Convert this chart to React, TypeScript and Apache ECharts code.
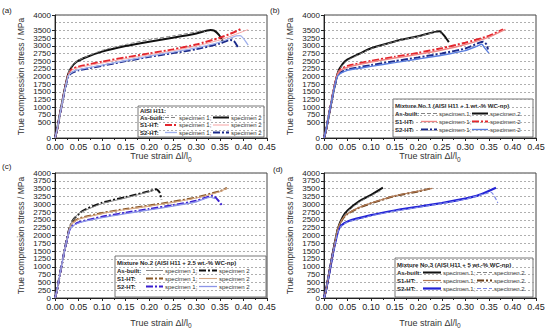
import React, { useEffect, useRef } from "react";
import * as echarts from "echarts";

// ---------- data: [true strain, true stress MPa] ----------
// (a) AISI H11
const a_ab1 = [[0,0],[0.004,260],[0.01,780],[0.02,1580],[0.028,2100],[0.035,2330],[0.05,2530],[0.1,2850],[0.15,3040],[0.2,3200],[0.25,3320],[0.3,3450],[0.315,3490],[0.322,3380]];
const a_ab2 = [[0,0],[0.004,250],[0.01,750],[0.02,1550],[0.028,2080],[0.035,2300],[0.046,2480],[0.07,2650],[0.1,2810],[0.15,2990],[0.2,3130],[0.25,3260],[0.3,3400],[0.33,3510],[0.338,3490],[0.348,3350],[0.357,3130]];
const a_s1a = [[0,0],[0.004,240],[0.01,730],[0.02,1530],[0.028,2050],[0.035,2230],[0.05,2320],[0.1,2480],[0.15,2620],[0.2,2750],[0.25,2880],[0.3,3040],[0.35,3260],[0.38,3440],[0.395,3550]];
const a_s1b = [[0,0],[0.004,240],[0.01,730],[0.02,1520],[0.028,2040],[0.035,2200],[0.05,2290],[0.1,2440],[0.15,2580],[0.2,2710],[0.25,2840],[0.3,2990],[0.35,3190],[0.38,3350],[0.41,3530]];
const a_s2a = [[0,0],[0.004,240],[0.01,720],[0.02,1500],[0.028,2000],[0.035,2130],[0.05,2220],[0.1,2370],[0.15,2520],[0.2,2660],[0.25,2790],[0.3,2930],[0.35,3120],[0.385,3320],[0.393,3330],[0.41,3020]];
const a_s2b = [[0,0],[0.004,240],[0.01,720],[0.02,1500],[0.028,1990],[0.035,2110],[0.05,2200],[0.1,2350],[0.15,2500],[0.2,2640],[0.25,2760],[0.3,2890],[0.35,3070],[0.372,3190],[0.38,3150],[0.388,2960]];

// (b) Mixture No.1
const b_ab1 = [[0,0],[0.004,230],[0.01,700],[0.02,1500],[0.03,2150],[0.04,2380],[0.05,2520],[0.075,2720],[0.1,2900],[0.15,3130],[0.2,3300],[0.24,3440],[0.25,3400]];
const b_ab2 = [[0,0],[0.004,230],[0.01,700],[0.02,1500],[0.03,2150],[0.04,2420],[0.05,2560],[0.075,2740],[0.1,2920],[0.15,3140],[0.2,3310],[0.245,3470],[0.255,3330],[0.265,3120]];
const b_s1a = [[0,0],[0.004,240],[0.01,720],[0.02,1520],[0.028,2030],[0.035,2200],[0.05,2300],[0.1,2470],[0.15,2600],[0.2,2720],[0.25,2860],[0.3,3040],[0.35,3280],[0.385,3530]];
const b_s1b = [[0,0],[0.004,240],[0.01,720],[0.02,1530],[0.028,2050],[0.035,2230],[0.05,2340],[0.1,2510],[0.15,2640],[0.2,2770],[0.25,2920],[0.3,3100],[0.35,3320],[0.38,3530]];
const b_s2a = [[0,0],[0.004,240],[0.01,720],[0.02,1500],[0.028,2000],[0.035,2130],[0.05,2230],[0.1,2370],[0.15,2500],[0.2,2620],[0.25,2750],[0.3,2910],[0.33,3100],[0.338,3130],[0.345,3040],[0.348,2880]];
const b_s2b = [[0,0],[0.004,240],[0.01,710],[0.02,1490],[0.028,1980],[0.035,2100],[0.05,2200],[0.1,2330],[0.15,2450],[0.2,2570],[0.25,2690],[0.3,2840],[0.325,2990],[0.335,3050],[0.34,2950],[0.35,2760]];

// (c) Mixture No.2
const c_ab1 = [[0,0],[0.004,230],[0.01,720],[0.02,1500],[0.03,2200],[0.035,2420],[0.05,2700],[0.1,3020],[0.15,3200],[0.2,3400],[0.21,3450]];
const c_ab2 = [[0,0],[0.004,230],[0.01,720],[0.02,1500],[0.03,2200],[0.04,2530],[0.06,2800],[0.1,3050],[0.15,3230],[0.2,3420],[0.215,3480],[0.222,3380],[0.226,3150]];
const c_s1a = [[0,0],[0.004,230],[0.01,720],[0.02,1500],[0.03,2180],[0.035,2380],[0.05,2540],[0.1,2720],[0.15,2850],[0.2,2960],[0.25,3080],[0.3,3220],[0.35,3420],[0.365,3520]];
const c_s1b = [[0,0],[0.004,230],[0.01,720],[0.02,1500],[0.03,2170],[0.035,2360],[0.05,2520],[0.1,2700],[0.15,2830],[0.2,2940],[0.25,3060],[0.3,3200],[0.35,3400],[0.365,3510]];
const c_s2a = [[0,0],[0.004,230],[0.01,720],[0.02,1500],[0.03,2150],[0.035,2290],[0.05,2420],[0.1,2600],[0.15,2730],[0.2,2850],[0.25,2970],[0.3,3110],[0.335,3280],[0.345,3150],[0.355,2950]];
const c_s2b = [[0,0],[0.004,230],[0.01,720],[0.02,1500],[0.03,2140],[0.035,2270],[0.05,2400],[0.1,2570],[0.15,2700],[0.2,2820],[0.25,2940],[0.3,3080],[0.33,3230],[0.34,3180]];

// (d) Mixture No.3
const d_ab1 = [[0,0],[0.004,240],[0.01,720],[0.02,1550],[0.03,2250],[0.04,2600],[0.05,2800],[0.075,3100],[0.1,3300],[0.125,3530]];
const d_ab2 = [[0,0],[0.004,240],[0.01,720],[0.02,1540],[0.03,2230],[0.04,2570],[0.05,2770],[0.075,3070],[0.1,3270],[0.12,3430]];
const d_s1a = [[0,0],[0.004,240],[0.01,720],[0.02,1540],[0.03,2250],[0.04,2550],[0.05,2700],[0.075,2900],[0.1,3040],[0.15,3270],[0.2,3420],[0.23,3510]];
const d_s1b = [[0,0],[0.004,240],[0.01,720],[0.02,1540],[0.03,2240],[0.04,2540],[0.05,2690],[0.075,2890],[0.1,3030],[0.15,3260],[0.2,3410],[0.225,3500]];
const d_s2a = [[0,0],[0.004,230],[0.01,700],[0.02,1500],[0.03,2150],[0.035,2300],[0.05,2450],[0.1,2650],[0.15,2800],[0.2,2920],[0.25,3040],[0.3,3180],[0.33,3300],[0.365,3530]];
const d_s2b = [[0,0],[0.004,230],[0.01,700],[0.02,1500],[0.03,2140],[0.035,2280],[0.05,2430],[0.1,2630],[0.15,2780],[0.2,2900],[0.25,3020],[0.3,3160],[0.34,3330],[0.355,3380],[0.369,3040]];

const xTicks = [0, 0.45, 0.05];
const yTicks = [0, 4000, 250];
const panelLetters = ["(a)", "(b)", "(c)", "(d)"];
const legendTitles = [
  "AISI H11:",
  "Mixture No.1 (AISI H11 + 1 wt.-% WC-np)",
  "Mixture No.2 (AISI H11 + 2.5 wt.-% WC-np)",
  "Mixture No.3 (AISI H11 + 5 wt.-% WC-np)",
];
const rowLabels = ["As-built:", "S1-HT:", "S2-HT:"];
const specLabels = ["specimen 1;", "specimen 2"];

// ---------- styles ----------
const SOLID = "solid";
const DASH = [4, 2];
const DASHDOT = [7, 2, 2, 2];
type St = { c: string; w: number; t: any };
const styles: St[][] = [
  [
    { c: "#858585", w: 1, t: DASH }, { c: "#111111", w: 2, t: SOLID },
    { c: "#e3262d", w: 2, t: DASHDOT }, { c: "#f6a3a3", w: 1, t: SOLID },
    { c: "#9fb0ec", w: 1.3, t: SOLID }, { c: "#1b2a8a", w: 2, t: DASHDOT },
  ],
  [
    { c: "#858585", w: 1, t: DASH }, { c: "#111111", w: 2, t: SOLID },
    { c: "#f08585", w: 1.4, t: SOLID }, { c: "#e3262d", w: 2, t: DASHDOT },
    { c: "#1b2a8a", w: 2, t: DASHDOT }, { c: "#5b7fe0", w: 1.4, t: SOLID },
  ],
  [
    { c: "#858585", w: 1, t: SOLID }, { c: "#111111", w: 2, t: DASHDOT },
    { c: "#8a5a2b", w: 2, t: DASHDOT }, { c: "#d6a884", w: 1.1, t: SOLID },
    { c: "#3a1fd0", w: 2, t: DASHDOT }, { c: "#8c95e8", w: 1.3, t: SOLID },
  ],
  [
    { c: "#111111", w: 2, t: SOLID }, { c: "#858585", w: 1, t: DASH },
    { c: "#b27a55", w: 1.2, t: SOLID }, { c: "#6b3f1a", w: 2, t: DASHDOT },
    { c: "#2323d6", w: 2.2, t: SOLID }, { c: "#7f8ae6", w: 1.2, t: DASH },
  ],
];
const panelData = [
  [a_ab1, a_ab2, a_s1a, a_s1b, a_s2a, a_s2b],
  [b_ab1, b_ab2, b_s1a, b_s1b, b_s2a, b_s2b],
  [c_ab1, c_ab2, c_s1a, c_s1b, c_s2a, c_s2b],
  [d_ab1, d_ab2, d_s1a, d_s1b, d_s2a, d_s2b],
];

// layout (px)
const grids = [
  { left: 55, top: 15, width: 212, height: 123, xGap: 11 },
  { left: 324, top: 15, width: 212, height: 123, xGap: 11 },
  { left: 55, top: 173, width: 212, height: 125, xGap: 18 },
  { left: 324, top: 173, width: 212, height: 125, xGap: 18 },
];
const letterPos = [[2, 6], [270, 6], [2, 162], [273, 165]];
const legends = [
  { x: 138, y: 106, w: 126, h: 31, ty: 110.5, rows: [117.5, 125, 132.5], lx: 140, s1: [165, 177], t1: 179, s2: [213, 229], t2: 231 },
  { x: 393, y: 99, w: 140, h: 38, ty: 105.5, rows: [113.5, 121.5, 129.5], lx: 395, s1: [421, 437], t1: 439, s2: [472, 488], t2: 490 },
  { x: 115, y: 256, w: 151, h: 41, ty: 262.5, rows: [270.5, 278.5, 286.5], lx: 117, s1: [146, 163], t1: 165, s2: [199, 217], t2: 219 },
  { x: 395, y: 258, w: 138, h: 39, ty: 264.5, rows: [272.5, 280.5, 288.5], lx: 397, s1: [423, 441], t1: 443, s2: [477, 492], t2: 494 },
];

const FONT = "Liberation Sans, Arial, sans-serif";
const LFS = 6;

function buildOption() {
  const grid: any[] = [];
  const xAxis: any[] = [];
  const yAxis: any[] = [];
  const series: any[] = [];
  const graphic: any[] = [];

  grids.forEach((g, i) => {
    grid.push({ left: g.left, top: g.top, width: g.width, height: g.height, show: true, borderColor: "#444", borderWidth: 1, backgroundColor: "transparent" });
    xAxis.push({
      type: "value", gridIndex: i, min: xTicks[0], max: xTicks[1], interval: xTicks[2],
      axisLine: { show: true, lineStyle: { color: "#222", width: 1 } },
      axisTick: { show: true, length: 3, lineStyle: { color: "#222" } },
      minorTick: { show: true, splitNumber: 2, length: 2, lineStyle: { color: "#222" } },
      splitLine: { show: false },
      axisLabel: { fontSize: 9, color: "#222", margin: 4, fontFamily: FONT, showMinLabel: true, showMaxLabel: true, formatter: (v: number) => v.toFixed(2) },
      name: "True strain Δl/l{sub|0}", nameLocation: "middle", nameGap: g.xGap,
      nameTextStyle: { fontSize: 9, color: "#333", fontFamily: FONT, rich: { sub: { fontSize: 6.5, padding: [6, 0, 0, 0], fontFamily: FONT, color: "#333" } } },
    });
    yAxis.push({
      type: "value", gridIndex: i, min: yTicks[0], max: yTicks[1], interval: yTicks[2],
      axisLine: { show: true, lineStyle: { color: "#222", width: 1 } },
      axisTick: { show: true, length: 3, lineStyle: { color: "#222" } },
      splitLine: { show: true, lineStyle: { color: "#9a9a9a", width: 0.8, type: [2, 2] } },
      axisLabel: { fontSize: 8, lineHeight: 7, color: "#222", margin: 4, fontFamily: FONT, showMinLabel: true, showMaxLabel: true, hideOverlap: false, formatter: (v: number) => String(v) },
      name: "True compression stress / MPa", nameLocation: "middle", nameGap: 30,
      nameTextStyle: { fontSize: 8.5, color: "#333", fontFamily: FONT },
    });

    panelData[i].forEach((d, k) => {
      const s = styles[i][k];
      series.push({
        type: "line", xAxisIndex: i, yAxisIndex: i, data: d, symbol: "none", smooth: 0.2,
        lineStyle: { color: s.c, width: s.w, type: s.t }, z: 2 + (s.w < 1.5 ? 1 : 0),
      });
    });

    graphic.push({ type: "text", left: letterPos[i][0], top: letterPos[i][1], style: { text: panelLetters[i], fontSize: 8, fill: "#222", fontFamily: FONT }, z: 10 });

    const L = legends[i];
    const els: any[] = [];
    els.push({ type: "rect", shape: { x: L.x, y: L.y, width: L.w, height: L.h }, style: { fill: "#fff", stroke: "#555", lineWidth: 0.8 } });
    els.push({ type: "text", x: L.lx, y: L.ty, style: { text: legendTitles[i], fontSize: LFS, lineHeight: 7, fontWeight: "bold", fill: "#222", fontFamily: FONT, verticalAlign: "middle" } });
    rowLabels.forEach((lab, r) => {
      const yy = L.rows[r];
      els.push({ type: "text", x: L.lx, y: yy, style: { text: lab, fontSize: LFS, lineHeight: 7, fontWeight: "bold", fill: "#222", fontFamily: FONT, verticalAlign: "middle" } });
      [0, 1].forEach((j) => {
        const s = styles[i][r * 2 + j];
        const seg = j === 0 ? L.s1 : L.s2;
        els.push({ type: "line", shape: { x1: seg[0], y1: yy, x2: seg[1], y2: yy }, style: { stroke: s.c, lineWidth: s.w, lineDash: s.t === SOLID ? null : s.t } });
        els.push({ type: "text", x: j === 0 ? L.t1 : L.t2, y: yy, style: { text: specLabels[j], fontSize: LFS, lineHeight: 7, fill: "#333", fontFamily: FONT, verticalAlign: "middle" } });
      });
    });
    graphic.push({ type: "group", z: 20, children: els });
  });

  return {
    animation: false,
    backgroundColor: "#fff",
    textStyle: { fontFamily: FONT },
    grid, xAxis, yAxis, series, graphic,
  };
}

export default function App() {
  const ref = useRef<HTMLDivElement>(null);
  useEffect(() => {
    if (!ref.current) return;
    const chart = echarts.init(ref.current, undefined, { renderer: "svg" });
    chart.setOption(buildOption() as any);
    return () => chart.dispose();
  }, []);
  return <div ref={ref} style={{ position: "absolute", left: 0, top: 0, width: 550, height: 333, background: "#fff" }} />;
}
